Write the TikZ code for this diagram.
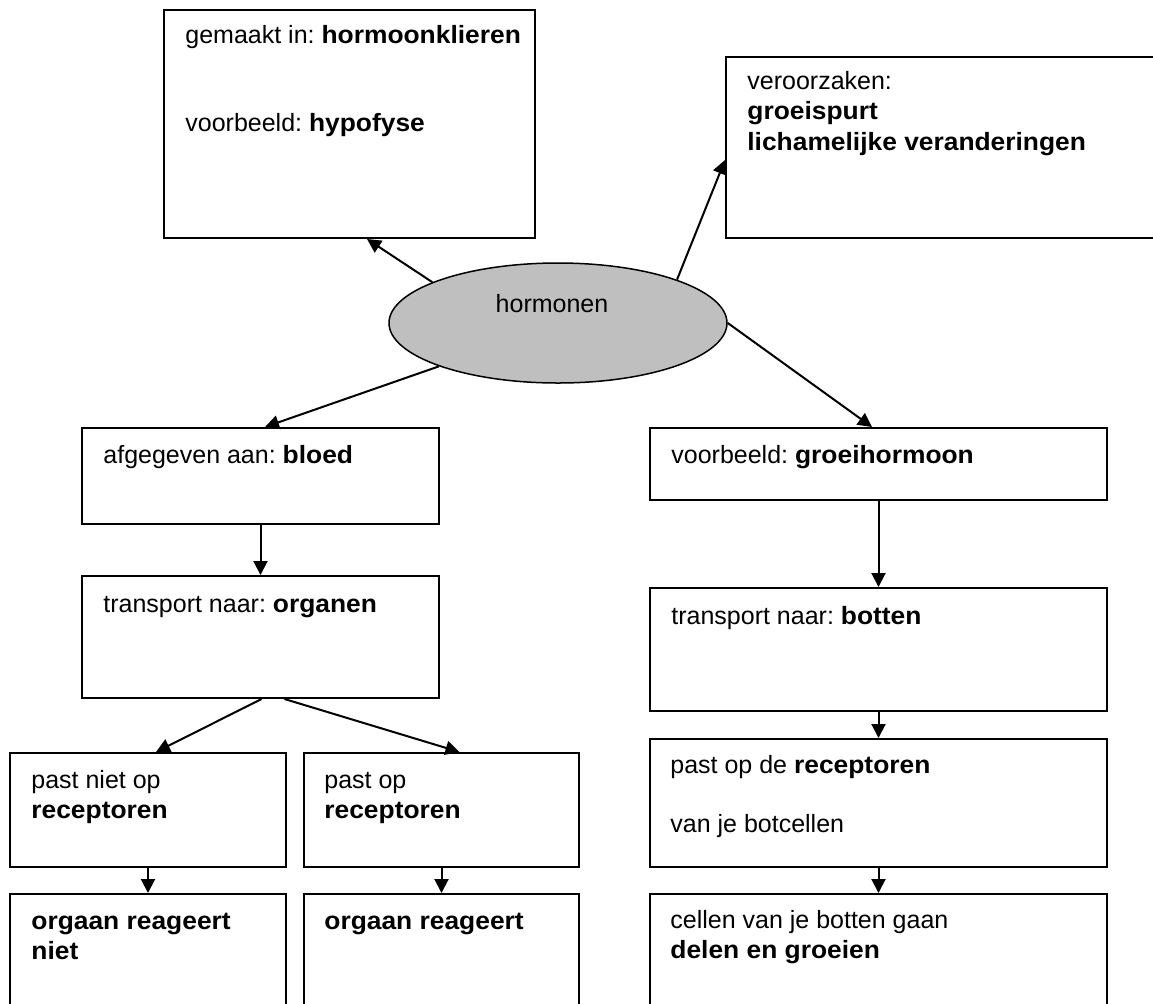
\documentclass[tikz,border=0pt]{standalone}
\usepackage{fontspec}
\setmainfont{Liberation Sans}[BoldFeatures={FakeStretch=1.055}]
\usetikzlibrary{arrows.meta,shapes.geometric,fit,calc}
\colorlet{grijs}{black!25}
\tikzset{
  vak/.style={draw,rectangle,line width=1pt,inner sep=0pt},
  tekst/.style={anchor=base west,inner sep=0pt,font=\fontsize{12.5}{15}\selectfont},
  pijl/.style={line width=1pt,-{Triangle[length=7pt,width=7pt]}},
}
\frenchspacing
\begin{document}
\begin{tikzpicture}[x=0.5pt,y=-0.5pt]
        \clip (0,0) rectangle (1153,1003);%%
        %\draw[step=50,color=gray,very thin] (0,0) grid (1153,1003);%%
        \node[ellipse,draw,fill=grijs,line width=0.75pt,minimum width=169pt,minimum height=60pt,inner sep=0pt] (horm) at (558,323) {};%%
        \node[tekst,anchor=base] (hormtxt) at (552,312) {hormonen};%%
        \begin{scope}[every node/.style={vak}]
        \node[fit={(164,10) (535,238)}] (klier) {}; %%
        \node[fit={(726,57) (1190,238)}] (verand) {}; %%
        \node[fit={(82,428) (439,524)}] (bloed) {}; %%
        \node[fit={(82,576) (439,698)}] (organen) {}; %%
        \node[fit={(10,753) (286,867)}] (pastniet) {}; %%
        \node[fit={(304,753) (579,867)}] (pastop) {}; %%
        \node[fit={(10,894) (286,1030)}] (orgniet) {}; %%
        \node[fit={(304,894) (579,1030)}] (orgwel) {}; %%
        \node[fit={(650,428) (1107,500)}] (groei) {}; %%
        \node[fit={(650,588) (1107,711)}] (botten) {}; %%
        \node[fit={(650,739) (1107,867)}] (recep) {}; %%
        \node[fit={(650,894) (1107,1030)}] (cellen) {}; %%
        \end{scope}
        \begin{scope}[every node/.style={tekst}]
        \node (klier1) at (185,43) {gemaakt in: \textbf{hormoonklieren}}; %%
        \node (klier2) at (185,131) {voorbeeld: \textbf{hypofyse}}; %%
        \node (verand1) at (747,89) {veroorzaken:}; %%
        \node (verand2) at (747,119) {\textbf{groeispurt}}; %%
        \node (verand3) at (747,150) {\textbf{lichamelijke veranderingen}}; %%
        \node (bloed1) at (103,463) {afgegeven aan: \textbf{bloed}}; %%
        \node (organen1) at (103,612) {transport naar: \textbf{organen}}; %%
        \node (pastniet1) at (31,788) {past niet op}; %%
        \node (pastniet2) at (31,818) {\textbf{receptoren}}; %%
        \node (pastop1) at (324,788) {past op}; %%
        \node (pastop2) at (324,818) {\textbf{receptoren}}; %%
        \node (orgniet1) at (31,929) {\textbf{orgaan reageert}}; %%
        \node (orgniet2) at (31,959) {\textbf{niet}}; %%
        \node (orgwel1) at (324,929) {\textbf{orgaan reageert}}; %%
        \node (groei1) at (671,463) {voorbeeld: \textbf{groeihormoon}}; %%
        \node (botten1) at (671,624) {transport naar: \textbf{botten}}; %%
        \node (recep1) at (670,773) {past op de \textbf{receptoren}}; %%
        \node (recep2) at (670,832) {van je botcellen}; %%
        \node (cellen1) at (670,928) {cellen van je botten gaan}; %%
        \node (cellen2) at (670,958) {\textbf{delen en groeien}}; %%
        \end{scope}
        \draw[pijl] (horm.162)--($(klier.south west)+(204,0)$); %%
        \draw[pijl] (horm.20)--($(verand.north west)+(0,104)$); %%
        \draw[pijl] (horm.200)--($(bloed.north west)+(184,0)$); %%
        \draw[pijl] (horm.east)--($(groei.north west)+(223,0)$); %%
        \draw[pijl] (bloed)--(organen); %%
        \draw[pijl] ($(organen.south)+(1,0)$)--($(pastniet.north)+(8,0)$); %%
        \draw[pijl] ($(organen.south)+(24,0)$)--($(pastop.north)+(18,0)$); %%
        \draw[pijl] (pastniet)--(orgniet); %%
        \draw[pijl] (pastop)--(orgwel); %%
        \draw[pijl] (groei)--(botten); %%
        \draw[pijl] (botten)--(recep); %%
        \draw[pijl] (recep)--(cellen); %%
\end{tikzpicture}
\end{document}
